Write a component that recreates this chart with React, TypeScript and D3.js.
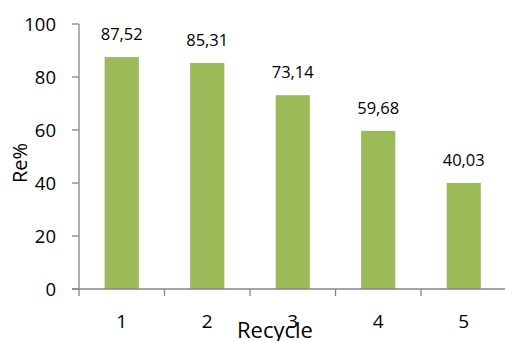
import React from "react";
import * as d3 from "d3";

const categories = ["1", "2", "3", "4", "5"];
const values = [87.52, 85.31, 73.14, 59.68, 40.03];
const valueLabels = ["87,52", "85,31", "73,14", "59,68", "40,03"];
const yTicks = [0, 20, 40, 60, 80, 100];

const W = 505;
const H = 341;
const left = 79;
const right = 506.5;
const top = 24;
const bottom = 289;
const font = "'Open Sans', sans-serif";
const axisColor = "#868686";
const barColor = "#9BBB59";

export default function App() {
  const x = d3.scaleBand<string>().domain(categories).range([left, right]).paddingInner(0.6).paddingOuter(0.3);
  const xb = d3.scaleBand<string>().domain(categories).range([left, right]);
  const y = d3.scaleLinear().domain([0, 100]).range([bottom, top]);

  return (
    <svg width={W} height={H} style={{ position: "absolute", left: 0, top: 0, background: "#fff" }}>
      {categories.map((c, i) => (
        <g key={c}>
          <rect x={x(c)} y={y(values[i])} width={x.bandwidth()} height={bottom - y(values[i])} fill={barColor} />
          <text x={(x(c) as number) + x.bandwidth() / 2} y={y(values[i]) - 17} textAnchor="middle" fontFamily={font} fontSize={16.5} fill="#000">
            {valueLabels[i]}
          </text>
        </g>
      ))}
      <line x1={left} x2={left} y1={top} y2={bottom} stroke={axisColor} strokeWidth={1.3} />
      <line x1={72} x2={W} y1={bottom} y2={bottom} stroke={axisColor} strokeWidth={1.3} />
      {yTicks.map((t) => (
        <g key={t}>
          <line x1={72} x2={left} y1={y(t)} y2={y(t)} stroke={axisColor} strokeWidth={1.3} />
          <text x={56} y={y(t) + 6.5} textAnchor="end" fontFamily={font} fontSize={18.5} fill="#000">
            {t}
          </text>
        </g>
      ))}
      {categories.map((c) => (
        <line key={"t" + c} x1={xb(c)} x2={xb(c)} y1={bottom} y2={296} stroke={axisColor} strokeWidth={1.3} />
      ))}
      {categories.map((c) => (
        <text key={"l" + c} x={(xb(c) as number) + xb.bandwidth() / 2} y={328} textAnchor="middle" fontFamily={font} fontSize={19} fill="#000">
          {c}
        </text>
      ))}
      <text x={275} y={338} textAnchor="middle" fontFamily={font} fontSize={22} fill="#000">
        Recycle
      </text>
      <text transform="translate(27,163) rotate(-90)" textAnchor="middle" fontFamily={font} fontSize={20} fill="#000">
        Re%
      </text>
    </svg>
  );
}
